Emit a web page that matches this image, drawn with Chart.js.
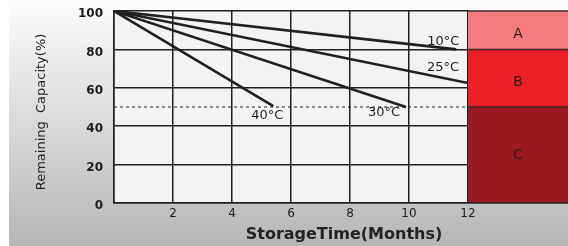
<!DOCTYPE html>
<html>
<head>
<meta charset="utf-8">
<script src="https://cdn.jsdelivr.net/npm/chart.js@4.4.0/dist/chart.umd.min.js"></script>
<style>
  html, body { margin: 0; padding: 0; background: #fff; }
  #wrap { width: 568px; height: 246px; }
</style>
</head>
<body>
<div id="wrap"><canvas id="c" width="568" height="246"></canvas></div>
<script>
// ---------- Data ----------
const temps = ['10°C', '25°C', '30°C', '40°C'];
const startMonth = 0, startCap = 100;
const endMonths = [11.6, 12, 9.9, 5.4];
const endCaps = [80, 62.5, 50, 50.5];
const xTicks = [0, 2, 4, 6, 8, 10, 12];
const yTicks = [0, 20, 40, 60, 80, 100];
const refLevel = 50;
const zoneNames = ['A', 'B', 'C'];
const zoneTops = [100, 80, 50];
const zoneBottoms = [80, 50, 0];
const zoneColors = ['#f47c7e', '#ee1f26', '#9b1a21'];

const INK = '#231f20';
const FONT = '"DejaVu Sans", Verdana, sans-serif';

// ---------- Plugins ----------
const backdrop = {
  id: 'backdrop',
  beforeDraw(chart) {
    const { ctx, chartArea: a, width, height } = chart;
    ctx.save();
    ctx.fillStyle = '#fff';
    ctx.fillRect(0, 0, width, height);
    const g = ctx.createLinearGradient(0, 0, 0, height);
    g.addColorStop(0, '#fdfdfd');
    g.addColorStop(1, '#b6b6b6');
    ctx.fillStyle = g;
    ctx.fillRect(9, 0, width - 9, height);
    ctx.fillStyle = '#f1f3f5';
    ctx.fillRect(a.left, a.top, a.right - a.left, a.bottom - a.top);
    ctx.restore();
  }
};

const zones = {
  id: 'zones',
  afterDraw(chart) {
    const { ctx, chartArea: a, width, scales: { y } } = chart;
    ctx.save();
    zoneNames.forEach((name, i) => {
      const t = y.getPixelForValue(zoneTops[i]);
      const b = y.getPixelForValue(zoneBottoms[i]);
      ctx.fillStyle = zoneColors[i];
      ctx.fillRect(a.right, t, width - a.right, b - t);
      ctx.strokeStyle = '#3a2a2a';
      ctx.lineWidth = 1.5;
      ctx.beginPath();
      ctx.moveTo(a.right, t); ctx.lineTo(width, t);
      ctx.stroke();
      ctx.fillStyle = '#2a1a1a';
      ctx.font = '14px ' + FONT;
      ctx.textAlign = 'center';
      ctx.textBaseline = 'middle';
      ctx.fillText(name, (a.right + width) / 2, (t + b) / 2 + (i < 2 ? 4 : 0));
    });
    ctx.strokeStyle = INK;
    ctx.lineWidth = 1.5;
    ctx.beginPath();
    ctx.moveTo(a.right, a.bottom); ctx.lineTo(width, a.bottom);
    ctx.stroke();

    // series labels, placed relative to each line's end point
    ctx.fillStyle = INK;
    ctx.font = '13px ' + FONT;
    ctx.textAlign = 'center';
    ctx.textBaseline = 'middle';
    const lab = [[-13, -8], [-25, -15], [-22, 6], [-6, 10]];
    temps.forEach((t, i) => {
      const px = chart.scales.x.getPixelForValue(endMonths[i]) + lab[i][0];
      const py = y.getPixelForValue(endCaps[i]) + lab[i][1];
      ctx.fillText(t, px, py);
    });

    // axis titles
    ctx.font = '13px ' + FONT;
    ctx.fillStyle = '#222';
    ctx.save();
    ctx.translate(42, 112);
    ctx.rotate(-Math.PI / 2);
    ctx.fillText('Remaining  Capacity(%)', 0, 0);
    ctx.restore();
    ctx.font = 'bold 16px ' + FONT;
    ctx.fillText('StorageTime(Months)', 344, 235);
    ctx.restore();
  }
};

// ---------- Chart ----------
const lineSets = temps.map((t, i) => ({
  label: t,
  data: [{ x: startMonth, y: startCap }, { x: endMonths[i], y: endCaps[i] }],
  borderColor: INK,
  borderWidth: 2.6,
  pointRadius: 0,
  fill: false
}));
lineSets.push({
  label: 'ref',
  data: [{ x: xTicks[0], y: refLevel }, { x: xTicks[xTicks.length - 1], y: refLevel }],
  borderColor: INK,
  borderWidth: 1,
  borderDash: [3, 3],
  pointRadius: 0,
  fill: false
});

new Chart(document.getElementById('c'), {
  type: 'line',
  data: { datasets: lineSets },
  options: {
    responsive: false,
    animation: false,
    layout: { padding: { top: 11, right: 100, left: 0, bottom: 0 } },
    plugins: { legend: { display: false }, tooltip: { enabled: false } },
    scales: {
      x: {
        type: 'linear',
        min: xTicks[0], max: xTicks[xTicks.length - 1],
        afterBuildTicks: s => { s.ticks = xTicks.map(v => ({ value: v })); },
        afterFit: s => { s.height = 43; s.paddingLeft = 0; s.paddingRight = 0; },
        grid: { color: INK, lineWidth: 1.5, drawTicks: false },
        border: { color: INK, width: 1.5 },
        ticks: {
          padding: 4,
          color: '#1a1a1a',
          font: { family: FONT, size: 12 },
          callback: v => (v === 0 ? '' : v)
        }
      },
      y: {
        min: yTicks[0], max: yTicks[yTicks.length - 1],
        afterBuildTicks: s => { s.ticks = yTicks.map(v => ({ value: v })); },
        afterFit: s => { s.width = 114; s.paddingTop = 0; s.paddingBottom = 0; },
        grid: { color: INK, lineWidth: 1.5, drawTicks: false },
        border: { color: INK, width: 1.5 },
        ticks: {
          padding: 11,
          labelOffset: 3,
          color: '#1a1a1a',
          font: { family: FONT, size: 12, weight: 'bold' }
        }
      }
    }
  },
  plugins: [backdrop, zones]
});
</script>
</body>
</html>
